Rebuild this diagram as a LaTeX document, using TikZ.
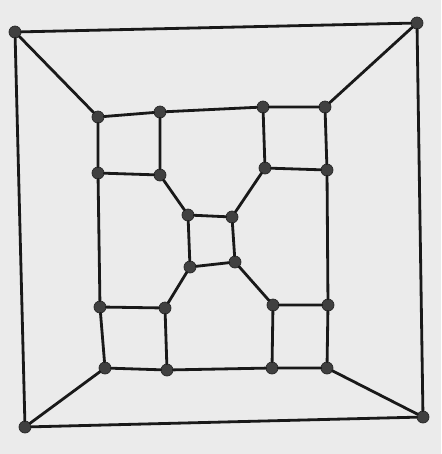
\documentclass[tikz,border=0pt]{standalone}
\usetikzlibrary{calc}

\begin{document}
\begin{tikzpicture}[x=0.02cm,y=-0.02cm,line cap=round,line join=round,
  vtx/.style={circle,fill=black!75,draw=black!85,inner sep=0pt,minimum size=0.24cm},
  edge/.style={black!90,line width=1.6pt}]
  \fill[black!8] (0,0) rectangle (441,454);
  \useasboundingbox (0,0) rectangle (441,454);

  % outer frame
  \node[vtx] (otl) at (15,32) {};
  \node[vtx] (otr) at (417,23) {};
  \node[vtx] (obr) at (423,417) {};
  \node[vtx] (obl) at (25,427) {};

  % inner rows
  \node[vtx] (t1) at (98,117) {};
  \node[vtx] (t2) at (160,112) {};
  \node[vtx] (t3) at (263,107) {};
  \node[vtx] (t4) at (325,107) {};
  \node[vtx] (r1) at (98,173) {};
  \node[vtx] (r2) at (160,175) {};
  \node[vtx] (r3) at (265,168) {};
  \node[vtx] (r4) at (327,170) {};
  \node[vtx] (c1) at (188,215) {};
  \node[vtx] (c2) at (232,217) {};
  \node[vtx] (c3) at (235,262) {};
  \node[vtx] (c4) at (190,267) {};
  \node[vtx] (s1) at (100,307) {};
  \node[vtx] (s2) at (165,308) {};
  \node[vtx] (s3) at (273,305) {};
  \node[vtx] (s4) at (328,305) {};
  \node[vtx] (b1) at (105,368) {};
  \node[vtx] (b2) at (167,370) {};
  \node[vtx] (b3) at (272,368) {};
  \node[vtx] (b4) at (327,368) {};

  \draw[edge] (otl) -- (otr) -- (obr) -- (obl) -- (otl);
  \draw[edge] (otl) -- (t1);
  \draw[edge] (otr) -- (t4);
  \draw[edge] (obr) -- (b4);
  \draw[edge] (obl) -- (b1);

  \draw[edge] (t1) -- (t2) -- (t3) -- (t4);
  \draw[edge] (b1) -- (b2) -- (b3) -- (b4);
  \draw[edge] (t1) -- (r1) -- (s1) -- (b1);
  \draw[edge] (t4) -- (r4) -- (s4) -- (b4);

  \draw[edge] (t2) -- (r2) -- (r1);
  \draw[edge] (t3) -- (r3) -- (r4);
  \draw[edge] (s1) -- (s2) -- (b2);
  \draw[edge] (s4) -- (s3) -- (b3);

  \draw[edge] (c1) -- (c2) -- (c3) -- (c4) -- (c1);
  \draw[edge] (r2) -- (c1);
  \draw[edge] (r3) -- (c2);
  \draw[edge] (s3) -- (c3);
  \draw[edge] (s2) -- (c4);
\end{tikzpicture}
\end{document}
